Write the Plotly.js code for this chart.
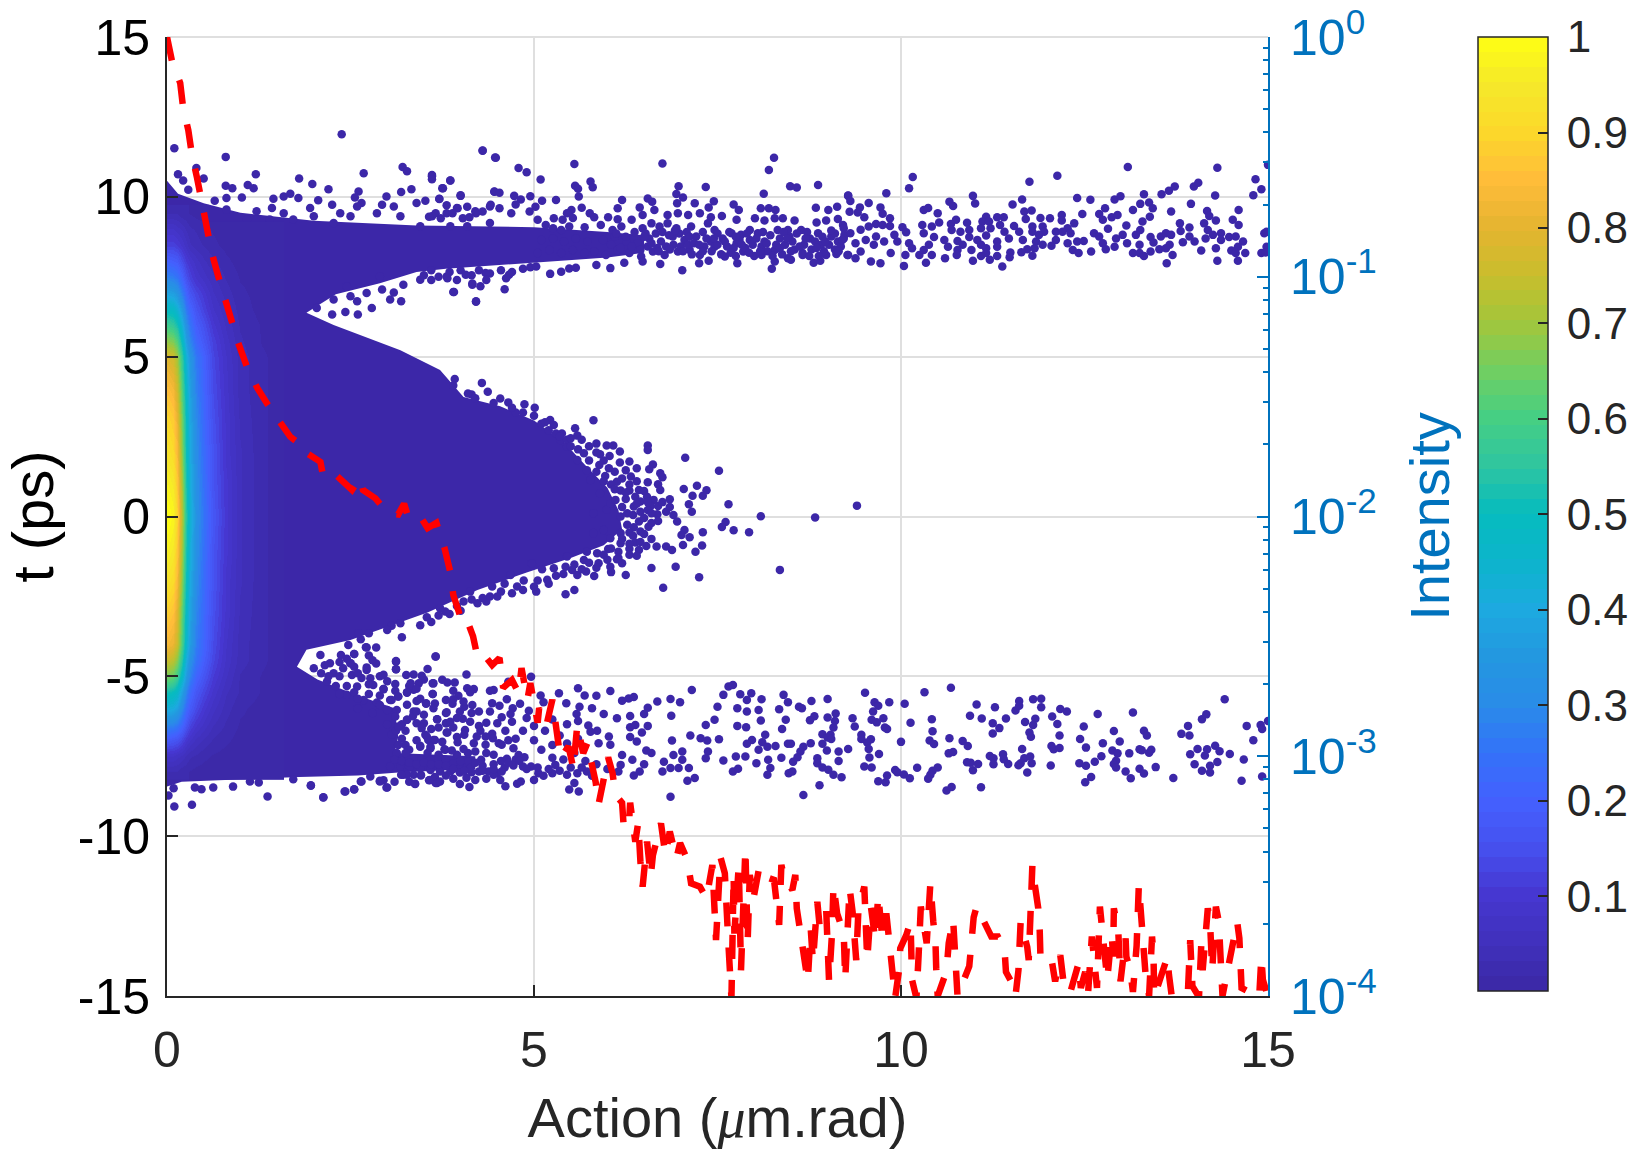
<!DOCTYPE html>
<html>
<head>
<meta charset="utf-8">
<script src="https://cdn.plot.ly/plotly-3.0.1.min.js"></script>
<style>html,body{margin:0;padding:0;background:#fff}</style>
</head>
<body>
<div id="chart_div1" style="width:1640px;height:1154px"></div>
<script>
var xTickVals = [0, 5, 10, 15];
var xTickText = ["0", "5", "10", "15"];
var tTickVals = [-15, -10, -5, 0, 5, 10, 15];
var tTickText = ["-15", "-10", "-5", "0", "5", "10", "15"];
var intensityTickVals = [1, 0.1, 0.01, 0.001, 0.0001];
var intensityTickText = ["10<sup>0</sup>", "10<sup>-1</sup>", "10<sup>-2</sup>", "10<sup>-3</sup>", "10<sup>-4</sup>"];
var intensityMinorVals = [0.9,0.8,0.7,0.6,0.5,0.4,0.3,0.2,0.09,0.08,0.07,0.06,0.05,0.04,0.03,0.02,0.009,0.008,0.007,0.006,0.005,0.004,0.003,0.002,0.0009,0.0008,0.0007,0.0006,0.0005,0.0004,0.0003,0.0002];
var barTickVals = [0.1, 0.2, 0.3, 0.4, 0.5, 0.6, 0.7, 0.8, 0.9, 1];
var barTickText = ["\u20090.1", "\u20090.2", "\u20090.3", "\u20090.4", "\u20090.5", "\u20090.6", "\u20090.7", "\u20090.8", "\u20090.9", "\u20091"];

// colormap
var mapLevels = [0,0.05,0.1,0.15,0.2,0.25,0.3,0.35,0.4,0.45,0.5,0.55,0.6,0.65,0.7,0.75,0.8,0.85,0.9,0.95,1];
var mapColors = ["#3b27a4","#4031bc","#4636d0","#4650ee","#4460ff","#3372f8","#2a8ce8","#2397e0","#1daae0","#0cb4cc","#06bcbf","#2fc5a0","#45cf84","#70cf62","#a2c63c","#c8be2c","#e5b430","#ffbc3a","#fcd82a","#f5e82a","#ffff14"];

// bright core near action = 0, one row per entry of heatT
var heatAction = [0.02,0.08,0.14,0.2,0.26,0.32,0.4,0.5,0.62,0.8,1.0,1.3,1.5];
var heatT = [-8,-7.5,-7,-6.5,-6,-5.5,-5,-4.5,-4,-3,-2,-1,0,1,2,3,4,5,5.5,6,6.5,7,7.5,8,8.5,9,9.5];
var heatZ = [
[.03,.03,.03,.02,.02,.015,.01,.01,.01,.01,.01,.01,.01],
[.08,.08,.07,.06,.045,.035,.03,.02,.015,.01,.01,.01,.01],
[.18,.17,.16,.13,.1,.08,.06,.045,.03,.02,.01,.01,.01],
[.3,.29,.27,.22,.17,.13,.1,.075,.05,.03,.015,.01,.01],
[.42,.41,.38,.3,.23,.18,.14,.1,.07,.04,.02,.01,.01],
[.52,.5,.47,.37,.29,.22,.17,.13,.09,.05,.03,.015,.01],
[.65,.63,.58,.47,.36,.28,.21,.16,.11,.065,.03,.015,.01],
[.75,.73,.67,.54,.41,.32,.25,.19,.13,.075,.04,.02,.01],
[.83,.81,.75,.6,.46,.36,.27,.21,.14,.08,.04,.02,.01],
[.88,.86,.79,.63,.48,.38,.29,.22,.15,.09,.045,.02,.01],
[.93,.91,.84,.67,.51,.4,.31,.23,.16,.09,.05,.02,.01],
[.97,.95,.87,.7,.53,.42,.32,.24,.16,.1,.05,.02,.01],
[1,.98,.9,.72,.55,.43,.33,.25,.17,.1,.05,.02,.01],
[.97,.95,.87,.7,.53,.42,.32,.24,.16,.1,.05,.02,.01],
[.93,.91,.84,.67,.51,.4,.31,.23,.16,.09,.05,.02,.01],
[.9,.88,.81,.65,.5,.39,.3,.22,.15,.09,.045,.02,.01],
[.85,.83,.76,.61,.47,.37,.28,.21,.14,.085,.04,.02,.01],
[.78,.76,.7,.56,.43,.34,.26,.2,.13,.08,.04,.02,.01],
[.68,.66,.61,.49,.37,.29,.22,.17,.12,.07,.035,.015,.01],
[.58,.56,.52,.42,.32,.25,.19,.15,.1,.06,.03,.015,.01],
[.48,.47,.43,.35,.26,.21,.16,.12,.08,.05,.025,.01,.01],
[.38,.37,.34,.27,.21,.16,.13,.1,.065,.04,.02,.01,.01],
[.28,.27,.25,.2,.15,.12,.09,.07,.05,.03,.015,.01,.01],
[.2,.19,.18,.14,.11,.09,.07,.05,.035,.02,.01,.01,.01],
[.12,.12,.11,.09,.07,.05,.04,.03,.02,.012,.01,.01,.01],
[.08,.08,.07,.06,.045,.035,.03,.02,.015,.01,.01,.01,.01],
[.03,.03,.03,.02,.02,.015,.01,.01,null,null,null,null,null]
];

// outline of the solid part of the cloud
var bodyAction = [0,.15,.5,1,2,3.4,5,6,6.5,6.5,6,5,3.8,3.4,2.9,2.3,1.9,2.27,3.18,3.72,4.04,4.54,5,5.4,5.7,6,6.15,6.2,5.95,5.5,4.9,4.23,3.55,2.5,1.9,1.77,2.05,2.6,3.1,3.15,3.1,4.2,4.2,3.2,2.6,1.8,.68,.2,0];
var bodyT = [10.5,10.1,9.8,9.5,9.25,9.1,9.05,8.9,8.8,8.25,8.1,7.95,7.75,7.65,7.3,6.95,6.37,5.99,5.2,4.58,3.74,3.45,3,2.35,1.6,.9,.2,-.4,-.9,-1.3,-1.75,-2.3,-3,-3.86,-4.17,-4.7,-5.1,-5.6,-6,-6.9,-7.4,-7.5,-7.9,-8,-8.1,-8.15,-8.24,-8.3,-8.45];

// separate particles, [action, t]
var upperLeftDots = [[.10,11.52],[.80,11.25],[2.38,11.96],[.40,10.90],[.15,10.71],[1.21,10.71],[.22,10.51],[.50,10.57],[1.80,10.57],[1.98,10.40],[2.68,10.74],[3.21,10.93],[3.27,10.80],[2.20,10.24],[1.10,10.37],[1.18,10.27],[.80,10.35],[.89,10.27],[.29,10.22],[2.61,10.17],[3.33,10.24],[3.61,10.64],[3.86,10.51],[3.75,10.27],[4.46,10.17],[4.30,11.45],[4.47,11.23],
[.65,9.88],[.81,9.96],[1.02,9.98],[1.45,9.94],[1.59,10.01],[1.68,10.10],[1.79,9.96],[2.06,9.89],[2.56,9.98],[2.99,10.01],[3.19,10.15],[3.40,9.81],[3.52,9.88],[3.71,9.94],[4.0,10.05],
[.81,9.60],[1.43,9.65],[1.59,9.49],[1.95,9.65],[2.25,9.75],[2.36,9.49],[2.65,9.81],[2.59,9.70],[2.93,9.75],[3.09,9.70],[3.61,9.39],[3.81,9.49],[3.95,9.65],[4.20,9.55],[4.40,9.70],
[1.22,9.55],[1.09,9.29],[1.40,9.29],[1.72,9.29],[2.0,9.39],[2.27,9.18],[2.50,9.39],[2.86,9.49],[3.18,9.39],[3.45,9.08],[3.86,9.08],[4.09,9.08],[4.40,9.18],
[2.27,6.79],[2.43,6.40],[2.60,6.32],[2.25,6.32],[2.79,6.52],[2.59,6.73],[2.50,6.89],[2.72,6.99],[3.04,6.79],[3.19,6.73],[3.09,7.01],[3.90,7.02],[4.21,6.73],[4.16,7.29],[4.27,7.20],[3.22,7.25],[2.93,7.10],[2.45,7.20],[2.04,6.52],[2.90,7.51],[3.45,7.41],[3.81,7.51],[4.34,7.62],
[3.5,7.55],[3.6,7.7],[3.7,7.5],[3.85,7.65],[4.0,7.7],[4.15,7.55],[4.25,7.7],[4.4,7.6],[4.55,7.7],[4.7,7.65],[4.85,7.75],[4.95,7.8],[3.6,7.4],[3.95,7.4]];
var upperMidDots = [[4.30,11.44],[4.48,11.22],[4.79,10.90],[4.90,10.77],[5.09,10.54],[5.55,11.03],[6.75,11.04],[8.27,11.22],[8.20,10.84],[3.61,10.68],[3.61,10.55],[3.86,10.51],[3.76,10.27],[4.46,10.16],[4.53,10.13],[4.0,10.03],[3.71,9.93],[4.73,10.03],[4.82,9.92],[4.95,10.02],[5.11,9.88],[5.30,9.90],[5.61,10.01],[5.77,10.48],[5.80,10.30],[5.56,10.35],[5.60,10.25],[6.20,9.90],[6.97,10.33],[7.34,10.31],[8.13,10.10],[8.49,10.33],[8.58,10.29],[8.87,10.37],[6.55,9.95],[6.61,9.85],[6.94,10.09],[7.03,9.98],[6.95,9.80],[7.19,9.80],[7.45,9.86],[7.38,9.67],[7.72,9.76],[7.79,9.59],[8.09,9.64],[8.20,9.64],[8.29,9.59],[8.84,9.66],[9.01,9.59],[9.13,9.69],[9.28,10.04],[6.44,9.67],[6.14,9.64],
[3.81,9.74],[3.96,9.64],[4.09,9.69],[4.41,9.75],[4.53,9.64],[4.75,9.76],[5.02,9.69],[5.51,9.59],[5.65,9.66],[5.45,9.49],[4.21,9.49],[4.30,9.54],[3.89,9.49],[3.66,9.49],[3.57,9.38],[3.73,9.33],[4.03,9.33],[4.12,9.36],[4.69,9.49],[4.94,9.54],[5.27,9.33],[5.39,9.28],[5.53,9.34],[5.76,9.49],[5.82,9.36],[6.01,9.36],[6.14,9.30],[6.33,9.28],[6.48,9.43],[6.64,9.59],[6.82,9.43],[6.96,9.49],[7.10,9.43],[7.26,9.49],[7.41,9.36],[7.56,9.40],[7.76,9.28],[8.01,9.33],[8.14,9.26],[8.28,9.33],[8.39,9.33],[8.55,9.26],[8.85,9.20],[8.98,9.26],[9.14,9.31],[9.21,9.12],
[5.05,9.28],[5.16,9.12],[5.26,9.02],[5.37,8.96],[5.48,9.07],[5.69,9.05],[5.91,9.12],[6.07,8.96],[6.19,9.07],[6.48,9.02],[6.60,9.17],[6.71,9.07],[6.82,9.17],[6.94,9.02],[7.14,9.07],[7.37,9.17],[7.46,8.96],[7.69,8.86],[7.82,8.81],[7.94,8.96],[8.05,8.86],[8.32,8.96],[8.46,8.96],[8.64,8.96],[8.87,8.86],[9.05,8.76],[9.23,8.81],
[5.10,8.65],[5.26,8.70],[5.41,8.60],[5.57,8.70],[5.73,8.60],[5.94,8.65],[6.10,8.76],[6.26,8.60],[6.41,8.55],[6.57,8.70],[6.73,8.60],[6.89,8.76],[7.05,8.65],[7.21,8.76],[7.41,8.60],[7.57,8.70],[7.76,8.55],[7.94,8.65],[8.14,8.60],[8.35,8.70],[8.48,8.76],[8.76,8.70],[8.91,8.50],[9.14,8.60],
[5.05,8.24],[5.21,8.34],[5.37,8.24],[5.53,8.34],[5.69,8.24],[5.82,8.29],[5.98,8.18],[6.14,8.34],[6.30,8.24],[6.46,8.13],[6.62,8.29],[6.78,8.18],[6.96,8.29],[7.12,8.34],[7.26,8.18],[7.46,8.44],[7.60,8.13],[7.85,8.29],[8.10,8.18],[8.28,8.34],[8.46,8.08],[8.66,8.24],[8.98,8.18],[9.12,8.21],[9.28,8.18],
[5.22,7.59],[5.37,7.66],[5.48,7.76],[5.57,7.78],[5.03,7.82],[3.91,7.02],[4.21,6.72],[4.60,7.11],[4.16,7.25],[4.35,7.40],[4.66,7.56],[4.62,7.45],[4.07,7.56],[3.82,7.45],[5.85,7.87],[6.04,7.77],[6.23,7.94],[6.48,7.98],[6.72,7.90],[7.02,7.70],[7.25,7.92],[7.38,8.0],[7.77,7.92],[8.24,7.75],[8.28,7.98],[8.50,8.03],[8.81,7.94],[8.90,8.0],[8.66,8.18],
[6.05,8.5],[6.12,8.85],[6.18,8.4],[6.25,8.75],[6.33,8.45],[6.37,8.9],[6.45,8.35],[6.52,8.85],[6.55,8.45],[6.66,8.85],[6.68,8.4],[6.75,8.9],[6.8,8.45],[6.84,8.8],[6.9,8.5],[6.98,8.85],[7.0,8.45],[7.08,8.9],[7.1,8.5],[7.15,8.2],[7.18,8.55],[7.3,8.9],[7.32,8.45],[7.35,8.7],[7.42,8.3],[7.5,8.85],[7.5,8.5],[7.55,8.2],[7.63,8.45],[7.66,8.9],[7.72,8.4],[7.75,8.15],[7.8,8.65],[7.88,8.4],[7.9,8.85],[7.98,8.5],[8.0,8.15],[8.1,8.45],[8.12,8.9],[8.18,8.3],[8.22,8.8],[8.3,8.5],[8.38,8.2],[8.4,8.9],[8.42,8.5],[8.52,8.6],[8.55,8.35],[8.58,8.85],[8.68,8.5],[8.72,8.9],[8.78,8.35],[8.83,8.6],[8.93,8.75],[8.95,8.3],[9.02,8.5],[9.1,8.35],[9.1,8.85],[9.18,8.45],
[6.5,8.75],[6.6,8.55],[6.7,8.3],[6.85,8.35],[6.92,8.95],[7.03,8.3],[7.12,8.75],[7.25,8.5],[7.3,8.3],[7.45,8.7],[7.6,8.6],[7.68,8.25],[7.75,8.75],[7.83,8.5],[7.93,8.25],[8.03,8.7],[8.08,8.3],[8.17,8.55],[8.25,8.15],[8.35,8.4],[8.45,8.7],[8.5,8.3],[8.62,8.45],[8.7,8.7],[8.75,8.15],[8.85,8.4],[8.88,8.15],[8.97,8.6],[9.05,8.95],[9.15,8.3],[9.22,8.7]];
var upperRightDots = [[9.28,10.03],[9.31,9.87],[9.80,10.11],[10.11,10.27],[10.16,10.62],[9.56,9.81],[9.44,9.67],[9.72,9.67],[9.30,9.53],[9.41,9.51],[9.50,9.36],[9.75,9.47],[9.85,9.33],[9.66,9.15],[9.85,9.09],[9.75,9.12],[9.56,9.07],[9.45,8.97],[9.22,9.02],[9.31,8.86],[9.20,8.65],[9.38,8.55],[9.66,8.76],[9.63,8.50],[9.52,8.65],[9.77,8.60],[9.91,8.81],[10.02,9.05],[10.07,8.89],[9.95,8.60],[10.11,8.55],[10.15,8.39],[10.06,8.18],[10.25,8.18],[9.86,8.24],[9.45,8.29],[9.27,8.18],[9.38,8.08],[9.59,7.98],[9.72,7.92],[10.04,7.84],[10.34,7.94],[10.42,8.18],[10.31,8.34],[10.38,8.50],[10.45,8.74],[10.31,8.86],[10.29,9.12],[10.42,9.07],[10.52,9.20],[10.31,9.59],[10.37,9.65],[10.50,9.49],[10.66,9.85],[10.71,9.71],[10.98,10.03],[11.01,9.79],[10.75,9.28],[10.68,9.15],[10.69,8.96],[10.90,9.19],[10.81,8.91],[10.93,8.96],[10.59,8.65],[10.64,8.44],[10.77,8.62],[10.93,8.74],[10.84,8.50],[10.77,8.34],[10.76,8.18],[10.60,8.08],[11.04,8.65],[10.96,8.34],[11.09,8.50],[11.16,8.79],[11.16,9.38],[11.11,9.23],[11.20,9.23],[11.09,9.02],[11.22,9.02],[11.31,9.36],[11.40,9.36],[11.35,9.12],[11.41,8.91],[11.47,8.70],[11.31,8.60],[11.31,8.44],[11.16,8.39],[11.09,8.15],[11.16,8.24],[11.31,8.15],[11.21,8.03],[10.98,8.00],[11.38,7.82],[11.49,8.26],[11.48,8.11],[11.52,9.76],[11.65,9.92],[11.75,10.47],[12.13,10.66],[11.68,9.54],[11.78,9.57],[11.70,9.31],[11.90,9.34],[12.03,9.33],[12.19,9.43],[12.19,9.26],[11.54,9.09],[11.61,8.91],[11.79,9.07],[11.93,9.07],[11.95,8.91],[12.11,8.91],[11.79,8.91],[11.88,8.81],[11.66,8.65],[11.84,8.60],[12.11,8.65],[11.93,8.50],[12.05,8.47],[11.82,8.39],[11.72,8.36],[11.64,8.27],[11.79,8.16],[12.27,9.02],[12.36,9.17],[12.20,8.91],[12.31,8.86],[12.40,8.60],[12.49,8.62],[12.27,8.55],[12.34,8.34],[12.42,8.24],[12.59,8.29],[12.40,9.96],[12.58,9.91],[12.47,9.46],[12.70,9.46],[12.78,9.64],[12.91,9.92],[12.99,10.02],[13.09,10.93],[13.16,9.59],[13.31,10.08],[13.26,9.78],[13.38,9.82],[13.43,9.64],[13.39,9.38],[13.29,9.23],[12.87,9.36],[12.95,9.43],[12.75,9.28],[13.07,9.10],[12.63,8.86],[12.70,8.76],[12.82,9.00],[12.75,8.55],[12.79,8.36],[12.93,8.70],[13.02,8.81],[13.08,8.55],[12.91,8.44],[13.20,8.81],[13.26,8.96],[13.25,8.50],[13.16,8.24],[13.25,8.24],[13.31,8.15],[13.40,8.74],[13.44,8.57],[13.40,8.29],[13.52,8.36],[13.54,8.76],[13.61,8.86],[13.68,8.81],[13.66,8.50],[13.61,8.39],[13.70,8.18],[13.62,7.92],[13.55,10.08],[13.65,10.19],[13.73,10.32],[13.68,9.54],[13.80,9.17],[13.81,8.93],[13.93,9.04],[13.95,9.78],[13.99,10.32],[14.05,10.44],[14.28,10.04],[14.31,10.91],[13.93,8.76],[13.84,8.58],[14.00,8.60],[14.09,8.32],[14.17,9.56],[14.20,9.40],[14.13,9.17],[14.29,9.26],[14.18,8.96],[14.25,8.81],[14.15,8.70],[14.36,8.86],[14.36,8.65],[14.29,8.39],[14.31,8.00],[14.47,8.74],[14.52,9.28],[14.60,9.59],[14.60,9.12],[14.56,8.76],[14.66,8.60],[14.59,8.44],[14.50,8.32],[14.69,8.24],[14.56,8.24],[14.59,8.00],[14.83,10.55],[14.91,10.24],[14.80,10.05],[15.0,11.0],[14.95,8.86],[14.98,8.91],[14.98,8.44],[14.91,8.24],[14.97,8.26]];
var wedgeDots = [[3.92,4.30],[4.29,4.18],[4.37,3.90],[4.15,3.82],[4.54,3.69],[4.65,3.57],[4.87,3.51],[5.01,3.40],[4.75,3.25],[5.81,3.01],[5.22,3.02],[5.27,2.86],[5.56,2.76],[5.38,2.60],[5.59,2.53],[5.85,2.28],[5.99,2.22],[6.08,2.22],[6.17,2.03],[6.55,2.22],[6.55,2.08],[7.06,1.84],[7.52,1.43],[5.90,1.95],[6.03,1.89],[6.17,1.69],[6.30,1.72],[6.40,1.51],[6.62,1.63],[6.57,1.48],[6.72,1.35],[6.75,1.23],[5.89,1.61],[6.02,1.51],[5.97,1.27],[6.20,1.19],[6.32,1.25],[6.55,1.07],[6.69,1.01],[6.72,.83],[7.04,.86],[7.22,.96],[7.35,.82],[7.16,.65],[7.30,.65],[6.85,.54],[7.65,.38],[7.11,.38],[7.15,.15],[9.40,.34],[8.09,.01],[8.83,-.03],
[6.13,1.09],[6.18,.81],[6.30,.81],[6.43,.83],[6.38,.62],[6.54,.62],[6.63,.52],[6.45,.47],[6.59,.33],[6.69,.33],[6.80,.15],[6.68,.07],[6.90,.05],[6.69,-.14],[6.95,-.16],[6.56,-.32],[6.43,-.16],[6.45,-.47],[6.36,-.34],[7.61,-.17],[7.56,-.33],[7.72,-.43],[7.93,-.49],[7.30,-.49],[7.05,-.42],[7.01,-.58],[7.12,-.65],[6.38,-.81],[6.53,-.92],[6.67,-.94],[6.80,-.94],[6.88,-1.05],[7.03,-.89],[7.29,-.91],[7.20,-1.10],[6.43,-1.05],[6.40,-1.23],[6.30,-1.01],[6.15,-1.10],[6.13,-1.34],[6.20,-1.46],[6.01,-1.02],[6.60,-1.61],[6.93,-1.57],[7.25,-1.90],[8.35,-1.67],[6.76,-2.23],[6.04,-1.57],[6.05,-1.74],[6.25,-1.83],[5.82,-1.86],[5.59,-1.83],[5.71,-1.72],[5.88,-1.46],[5.55,-2.30],[5.43,-2.43],[5.03,-2.35],[5.18,-1.98],[4.77,-2.19],[4.86,-2.0],[4.55,-2.35],[4.35,-2.66],[4.23,-2.71],[4.04,-2.66],[3.79,-2.97],[3.54,-3.15],[3.72,-2.87],[4.13,-2.35],[4.43,-2.19],[4.68,-1.83],[4.97,-1.46],[5.11,-1.65],[5.27,-1.62],[5.43,-1.57],[5.52,-1.67],
[5.81,.10],[5.99,.21],[6.18,0],[6.27,-.26],[6.18,-.52],[6.04,-.68],[5.81,-.52],[5.95,-.42],[6.18,-.84],[5.72,-1.10],[5.86,-1.15],[5.45,-1.25],[5.68,-1.36],[6.04,.41],[5.90,.73],[6.11,.52],[6.36,.31],[6.27,.10],[5.72,1.45],[5.77,1.14],[5.59,1.77],[5.68,1.98],[5.45,2.18],[5.36,2.39],
[5.1,2.9],[5.3,2.6],[5.45,2.4],[5.5,2.2],[5.6,2.1],[5.75,1.75],[5.85,1.4],[5.95,1.1],[6.05,1.0],[6.1,.85],[6.25,.55],[6.2,.3],[6.35,.05],[6.45,.15],[6.55,.2],[6.3,-.5],[6.2,-.7],[6.35,-.6],[6.05,-1.0],[5.95,-1.2],[5.75,-1.45],[5.55,-1.5],[5.3,-1.85],[5.05,-2.0],[4.85,-2.3],[4.6,-2.1],[4.4,-2.5],[4.15,-2.6],[3.95,-2.8],[3.7,-3.1],
[3.9,4.1],[4.1,3.85],[4.2,3.7],[4.45,3.55],[4.7,3.4],[4.85,3.25],[5.0,3.15],[5.15,2.95],[5.2,2.7],[5.35,2.5],[5.5,2.45],[5.65,2.4],[5.75,2.2],[5.85,2.0],[5.95,1.75],[6.1,1.4],[6.25,1.45],[6.4,1.1],[6.3,1.0],[6.5,.8],[6.25,.75],[6.55,.45],[6.4,.4],[6.75,.45],[6.85,.3],[6.6,.1],[6.5,-.05],[6.6,-.2],[6.5,-.55],[6.6,-.7],[6.45,-.8],[6.3,-.85],[6.3,-1.2],[6.15,-1.3],[6.0,-1.35],[5.85,-1.6],[5.65,-1.65],[5.4,-1.8],[5.2,-2.1],[5.0,-2.2],[4.7,-2.4],[4.5,-2.5],[4.3,-2.55],[4.0,-2.95],[3.85,-3.05],[3.6,-3.3],[3.45,-3.4]];
var lowerLeftDots = [[.10,-9.07],[.34,-9.02],[1.37,-8.76],[2.13,-8.79],[.02,-8.73],[1.96,-8.41],[2.43,-8.60],[2.55,-8.53],[3.0,-8.48],[3.38,-8.36],[.09,-8.50],[.38,-8.48],[.47,-8.53],[.63,-8.48],[.90,-8.45],[1.13,-8.29],[1.25,-8.32],[1.72,-8.22],[2.64,-8.29],[2.90,-8.27],[3.66,-8.34],[3.58,-8.24],[3.46,-8.10],[3.22,-8.08],
[2.72,-4.10],[2.55,-4.30],[2.50,-4.59],[3.12,-4.54],[3.12,-4.78],[3.66,-4.38],[3.20,-3.78],[3.06,-3.42],[3.0,-3.55],[3.18,-3.34],[2.75,-3.65],[2.64,-3.84],[2.61,-3.65],[2.47,-4.02],[2.37,-4.33],[2.09,-4.33],[2.22,-4.59],[2.0,-4.75],[2.27,-4.90],[2.40,-4.75],[2.52,-4.96],[2.72,-4.80],[2.77,-5.06],[2.81,-5.27],[2.95,-5.40],[2.59,-5.32],[2.18,-5.16],[2.45,-5.58],[2.68,-5.74],[2.86,-5.82],[3.36,-5.42],[3.15,-5.63],[3.27,-5.51],[3.04,-5.74],[3.63,-5.22],[3.80,-5.74],[3.62,-5.55],[3.53,-5.84],[3.36,-6.10],[3.13,-6.05],[3.11,-6.26],[3.68,-6.34],[3.80,-6.15],[3.80,-6.47],[3.27,-6.36],[3.50,-6.47],[3.18,-6.57],[3.06,-6.83],[3.54,-6.88],[3.63,-6.99],[3.81,-6.76],[3.59,-7.25],[3.45,-7.17],[3.79,-7.30],
[2.1,-4.9],[2.2,-5.0],[2.35,-5.0],[2.3,-5.3],[2.45,-5.3],[2.55,-5.5],[2.6,-5.7],[2.75,-5.55],[2.9,-5.6],[2.9,-5.0],[2.85,-4.6],[2.95,-4.95],[3.0,-5.15],[2.65,-5.05],[2.55,-4.7],[2.35,-4.55],[2.15,-4.65],[2.75,-4.35],[2.8,-4.5],[2.85,-4.1],[2.45,-4.45],[2.6,-4.9],[2.75,-5.25],[2.9,-5.9],[3.0,-6.05],[3.2,-6.5],[3.35,-6.25],[3.25,-6.7],[3.4,-7.0],[3.25,-7.15],[3.55,-7.4],[3.7,-7.45],[3.95,-7.45],[4.1,-7.4],[4.2,-7.35],[4.45,-7.45],[4.55,-7.65],[4.75,-7.6],[4.45,-7.75],[4.6,-7.85],[4.3,-7.8],[4.15,-8.0],[3.9,-8.2],[3.65,-8.15],[3.3,-8.3],[3.1,-8.3],[2.95,-8.25],[3.8,-8.1],[4.35,-8.2],
[2.35,-5.55],[2.6,-6.0],[2.8,-6.15],[3.0,-6.5],[3.12,-6.7],[3.2,-6.95],[3.3,-7.3],[3.15,-7.15],[3.4,-6.1],[3.5,-6.2],[3.3,-5.3],[3.5,-5.1],[3.45,-5.7],[3.65,-5.85],[3.7,-6.6],[3.9,-6.6],[3.95,-6.9],[3.75,-7.05],[3.6,-6.65],[3.9,-5.45],[4.05,-5.95],[4.25,-6.1],[4.35,-6.45],[4.25,-6.55],[3.95,-6.3],[4.4,-6.1]];
var lowerMidDots = [[3.66,-4.38],[3.12,-4.52],[3.12,-4.78],[3.55,-4.77],[3.26,-4.96],[3.36,-4.94],[3.47,-4.98],[2.72,-4.72],[2.50,-4.59],[2.55,-4.30],[2.71,-4.09],[4.08,-4.94],[3.75,-5.11],[3.82,-5.19],[3.92,-5.19],[3.62,-5.22],[3.32,-5.22],[3.43,-5.22],[3.11,-5.24],[2.95,-5.40],[3.11,-5.45],[3.40,-5.39],[3.27,-5.50],[3.62,-5.55],[4.09,-5.37],[4.18,-5.40],[4.13,-5.50],[4.40,-5.45],[4.45,-5.43],[3.97,-5.61],[3.90,-5.72],[3.89,-5.86],[4.04,-5.79],[4.63,-5.72],[4.43,-5.84],[4.53,-5.92],[4.71,-6.0],[4.81,-5.86],[4.16,-5.90],[3.40,-5.77],[3.27,-5.89],[3.53,-5.86],[3.15,-5.63],[3.06,-5.74],[3.63,-6.0],[3.81,-6.12],[3.99,-6.10],[4.15,-6.15],[4.03,-6.33],[4.13,-6.42],[3.68,-6.34],[3.81,-6.47],[3.86,-6.42],[3.82,-6.76],[4.06,-6.68],[4.05,-6.83],[4.56,-6.28],[4.68,-6.18],[4.50,-6.47],[4.61,-6.70],[4.70,-6.42],[4.43,-6.80],
[4.27,-6.70],[4.22,-6.88],[4.34,-6.88],[4.44,-6.94],[3.96,-7.06],[4.04,-7.27],[4.18,-7.09],[4.34,-7.14],[4.52,-7.09],[4.56,-7.14],[3.56,-6.99],[3.65,-6.99],[3.52,-6.83],[3.27,-6.36],[3.40,-6.47],[3.15,-6.57],[3.47,-6.62],[3.78,-7.28],[3.88,-7.32],[3.59,-7.20],[3.45,-7.20],[4.35,-7.40],[4.72,-7.25],[4.79,-7.46],[4.87,-7.53],[4.63,-7.58],[4.72,-7.79],[4.85,-7.82],[4.28,-7.61],[4.11,-7.67],[3.98,-7.80],[3.90,-7.72],[3.79,-7.61],[3.68,-7.61],[3.59,-7.61],[3.47,-7.61],[3.36,-7.56],[3.25,-7.40],[3.13,-7.40],
[3.27,-8.08],[3.36,-8.08],[3.46,-8.08],[3.19,-8.08],[3.04,-7.82],[3.18,-7.82],[3.31,-7.82],[3.45,-7.87],[3.59,-7.93],[3.72,-7.98],[3.86,-7.98],[3.99,-8.01],[4.13,-7.87],[4.25,-7.98],[4.38,-7.98],[4.50,-8.03],[4.56,-7.98],[4.96,-7.82],[5.06,-8.03],[5.13,-8.11],[5.25,-8.03],[5.29,-7.77],[5.45,-8.08],[5.59,-8.03],[5.72,-7.98],[5.79,-8.11],
[1.96,-8.42],[2.13,-8.78],[2.42,-8.60],[2.55,-8.54],[2.65,-8.29],[2.99,-8.48],[3.38,-8.37],[3.57,-8.25],[3.68,-8.34],[3.72,-8.29],[3.99,-8.37],[4.12,-8.46],[4.08,-8.17],[4.20,-8.24],[4.61,-8.44],[4.77,-8.36],[4.82,-8.29],[5.0,-8.24],[5.48,-8.54],[5.61,-8.60],[5.55,-8.34],[2.90,-8.29],[2.77,-8.13],[4.54,-8.24],[4.45,-8.08],
[4.96,-5.01],[4.65,-5.17],[5.09,-5.60],[5.34,-5.53],[5.13,-5.81],[4.93,-6.08],[5.44,-5.84],[5.60,-5.37],[5.69,-5.60],[5.85,-5.61],[6.04,-5.46],[5.62,-5.95],[5.79,-6.0],[5.58,-6.18],[5.95,-6.18],[6.13,-6.31],[6.20,-5.76],[6.29,-5.69],[6.36,-5.65],[6.55,-5.98],[6.68,-5.79],[6.31,-6.24],[6.86,-5.71],[6.99,-5.81],[7.15,-5.43],[6.87,-6.23],[6.50,-6.18],
[6.31,-6.59],[6.38,-6.52],[6.55,-6.55],[6.02,-6.88],[6.31,-6.90],[6.40,-7.04],[6.47,-6.76],[5.74,-6.54],[5.86,-6.70],[5.77,-6.73],[7.13,-6.85],[6.88,-7.01],[7.27,-6.94],[7.36,-7.01],[7.52,-6.97],[7.34,-6.52],[7.46,-6.36],[7.50,-5.95],[7.77,-6.0],[7.90,-6.10],[8.06,-6.05],[8.09,-6.38],[7.77,-6.55],[7.89,-6.59],[7.58,-5.58],[7.65,-5.32],[7.71,-5.27],[7.81,-5.56],[7.90,-5.74],[7.96,-5.53],[8.10,-5.72],[8.40,-5.58],[8.46,-5.81],[8.34,-6.03],[8.43,-6.36],[8.38,-6.65],
[6.04,-7.14],[5.88,-7.09],[6.53,-7.32],[6.60,-7.40],[6.20,-7.46],[6.34,-7.61],[6.50,-7.75],[6.18,-7.77],[6.15,-7.98],[6.36,-8.10],[6.44,-7.98],[6.75,-7.98],[6.77,-7.67],[6.90,-7.46],[7.02,-7.35],[7.02,-7.61],[7.37,-7.35],[7.34,-7.56],[6.86,-7.87],[6.97,-7.87],[7.11,-7.87],[7.09,-8.27],[7.19,-8.18],[6.86,-8.77],[7.58,-7.63],[7.75,-7.51],[7.88,-7.51],[7.71,-7.98],[7.78,-7.89],[8.03,-7.72],[8.19,-7.61],[8.37,-7.55],[8.22,-7.87],[8.18,-8.08],[8.47,-8.03],[7.97,-6.99],[7.90,-7.11],[8.11,-7.06],[8.06,-7.30],[8.18,-7.20],[8.29,-7.18],[8.46,-7.11],[8.15,-6.83],
[3.1,-7.6],[3.2,-7.65],[3.3,-7.7],[3.4,-7.75],[3.5,-7.7],[3.6,-7.75],[3.7,-7.75],[3.8,-7.8],[3.9,-7.9],[4.0,-7.65],[4.05,-7.95],[4.2,-7.7],[4.3,-7.95],[4.45,-7.9],[4.65,-7.7],[4.8,-7.65],[4.9,-7.9],[5.05,-7.85],[5.2,-7.9],[5.35,-7.95],[5.5,-7.85],[5.65,-7.85],[5.4,-7.6],[5.55,-7.4],[5.7,-7.65],[5.85,-7.75],[6.0,-7.9],[5.25,-7.55],[5.1,-7.3],[5.0,-7.0],[5.25,-7.15],[5.45,-7.1],[5.6,-6.95],[5.35,-6.85],[5.15,-6.7],[5.0,-6.55],[5.25,-6.35],[5.45,-6.5],[5.6,-6.4],[4.85,-6.7],[4.9,-6.3],[4.75,-6.95],[4.65,-7.0]];
var lowerRightDots = [[8.78,-5.77],[8.61,-5.95],[8.65,-6.0],[9.0,-5.71],[9.51,-5.51],[9.64,-5.81],[9.69,-5.92],[9.84,-5.81],[10.05,-5.86],[10.32,-5.50],[10.68,-5.36],[9.62,-6.10],[9.11,-6.16],[9.0,-6.29],[8.82,-6.25],[8.76,-6.37],[9.10,-6.40],[9.34,-6.31],[9.60,-6.36],[9.67,-6.44],[9.76,-6.31],[9.37,-6.57],[9.08,-6.60],[9.78,-6.60],[9.81,-6.65],[10.13,-6.45],[10.42,-6.34],[10.43,-6.72],[11.03,-5.88],[11.28,-5.97],[10.94,-6.23],[11.10,-6.32],[11.43,-6.32],[11.56,-6.07],[11.61,-5.77],[11.61,-5.92],[11.80,-5.72],[11.91,-5.70],[11.91,-5.97],[12.17,-6.02],[12.26,-6.10],[12.06,-6.26],[11.83,-6.33],[11.69,-6.43],[11.80,-6.52],[11.25,-6.47],[11.34,-6.62],[11.25,-6.79],[12.13,-6.49],[11.75,-6.76],[11.77,-6.89],[12.16,-6.85],[12.49,-6.57],[12.44,-6.96],[12.68,-6.18],[12.90,-6.71],[13.16,-6.13],[13.31,-6.70],[13.35,-6.85],[12.98,-7.04],[12.75,-7.09],[13.91,-6.55],[13.82,-6.80],[13.93,-6.85],[14.10,-6.34],[14.16,-6.19],[14.41,-5.72],[14.71,-6.55],[14.90,-6.52],[14.92,-6.65],[15.0,-6.40],[14.80,-7.0],
[8.50,-7.11],[8.77,-7.09],[8.67,-7.20],[8.93,-6.81],[9.04,-6.83],[9.0,-6.91],[9.05,-6.96],[8.93,-7.11],[8.99,-7.32],[9.15,-7.35],[9.28,-7.27],[9.46,-6.83],[9.46,-6.96],[9.59,-6.97],[9.54,-7.07],[9.56,-7.27],[9.70,-7.43],[9.57,-7.54],[9.15,-7.65],[8.63,-7.35],[8.59,-7.53],[8.53,-7.67],[8.86,-7.56],[8.86,-7.72],[8.93,-7.85],[9.01,-7.92],[9.08,-8.08],[9.19,-8.16],[9.50,-7.82],[9.60,-7.85],[8.52,-7.98],[8.89,-8.41],[8.67,-8.71],[9.69,-8.28],[9.79,-8.31],[9.81,-8.10],[9.92,-7.93],[9.95,-8.0],[10.04,-8.07],[10.12,-8.19],[10.22,-7.86],[10.0,-7.05],[10.39,-7.01],[10.45,-7.12],[10.66,-6.94],[10.84,-7.02],[10.91,-7.18],[10.65,-7.41],[10.71,-7.37],[10.50,-7.85],[10.43,-7.95],[10.40,-8.08],[10.37,-8.20],[10.62,-8.57],[10.69,-8.46],[11.09,-8.47],[10.90,-7.69],[10.95,-7.70],[11.05,-7.74],[10.98,-7.94],[11.21,-7.49],[11.26,-7.56],[11.26,-7.75],[11.39,-7.44],[11.40,-7.59],[11.46,-7.74],[11.65,-7.27],[11.68,-7.56],[11.76,-7.51],[11.78,-7.72],[11.63,-7.72],[11.60,-7.78],[11.72,-8.01],[12.04,-7.79],[12.05,-7.18],[12.08,-7.28],[12.16,-7.24],[12.43,-7.72],[12.52,-7.80],[12.52,-7.23],[12.64,-7.67],[12.73,-7.50],[12.59,-8.15],[12.51,-8.31],[12.88,-7.32],[12.95,-7.41],[12.93,-7.64],[12.90,-7.74],[12.93,-7.85],[13.11,-7.41],[13.25,-7.28],[13.28,-7.31],[13.38,-7.39],[13.41,-7.30],[13.06,-7.98],[13.13,-8.19],[13.25,-7.89],[13.31,-8.04],[13.47,-7.84],[13.71,-8.18],[13.94,-7.44],[14.04,-7.27],[14.17,-7.28],[14.14,-7.48],[14.28,-7.17],[14.34,-7.34],[14.48,-7.43],[14.0,-7.75],[14.31,-7.68],[14.21,-7.80],[14.10,-7.95],[14.21,-8.01],[14.67,-7.60],[14.64,-8.27],[14.92,-8.13]];

// dashed red curve, right axis
var lineAction = [0,.07,.18,.22,.29,.34,.41,.48,.55,.61,.70,.78,.87,.97,1.09,1.23,1.36,1.51,1.68,1.77,1.84,1.88,2.09,2.13,2.29,2.52,2.63,2.67,2.84,3.01,3.15,3.23,3.29,3.45,3.55,3.67,3.78,3.86,3.90,4.0,4.06,4.17,4.23,4.31,4.43,4.53,4.58,4.70,4.79,4.83,4.91,4.95,5.05,5.07,5.17,5.25,5.30,5.36,5.47,5.54,5.56,5.59,5.67,5.73,5.77,5.84,5.88,5.95,6.01,6.07,6.11,6.20,6.22,6.29,6.31,6.38,6.42,
6.45,6.48,6.54,6.59,6.62,6.73,6.79,6.85,6.94,6.99,7.09,7.14,7.26,7.35,7.43,7.48,7.54,7.60,7.65,7.69,7.72,7.73,7.79,7.82,7.88,7.91,7.94,7.99,8.07,8.14,8.27,8.31,8.34,8.37,8.41,8.52,8.56,8.58,8.61,8.67,8.73,8.77,8.80,8.86,8.89,8.98,9.02,9.06,9.08,9.13,9.22,9.24,9.30,9.34,9.39,9.42,9.50,9.54,9.59,9.65,9.69,9.74,9.80,9.86,9.89,9.92,9.97,9.99,10.07,10.13,10.15,10.21,10.24,10.27,10.35,10.40,10.44,10.47,10.48,10.50,10.62,10.65,10.71,10.77,10.93,10.96,10.99,11.03,11.11,11.23,11.32,11.41,11.43,11.50,11.56,11.60,11.63,11.72,11.74,11.78,11.79,11.82,11.87,11.89,11.90,11.93,12.05,12.10,12.17,12.21,12.30,12.42,12.45,12.51,12.55,12.60,12.63,12.67,12.71,12.75,12.78,12.81,12.87,12.89,12.90,12.96,12.99,13.06,13.07,13.12,13.16,13.21,13.24,13.25,13.27,13.30,13.33,13.38,13.42,13.44,13.45,13.63,13.65,13.69,13.91,13.94,13.97,14.06,14.09,14.11,14.18,14.21,14.24,14.29,14.33,14.37,14.38,14.58,14.61,14.64,14.88,14.91,14.93,15.0];
var lineIntensity = [1,.787,.643,.506,.409,.322,.258,.2,.16,.126,.1,.0815,.0647,.053,.042,.0344,.0297,.0252,.0215,.0205,.0203,.0186,.0169,.0146,.015,.0129,.0145,.0129,.0119,.0103,.0102,.0113,.00986,.01,.00895,.0094,.0074,.00587,.00471,.0038,.0039,.00316,.00259,.00267,.0024,.00257,.00193,.00208,.00184,.00233,.00172,.00202,.00138,.00159,.00135,.00172,.00138,.00098,.0011,.00088,.00108,.00135,.00103,.00114,.00098,.00078,.00063,.00081,.00099,.00085,.00069,.00064,.00052,.0005,.00064,.00044,.00053,
3.63e-4,2.86e-4,4.41e-4,3.15e-4,3.87e-4,5.25e-4,3.87e-4,4.85e-4,3.75e-4,4.35e-4,3.69e-4,2.95e-4,2.86e-4,2.55e-4,3.52e-4,1.71e-4,3.8e-4,3.25e-4,1.62e-4,9.8e-5,3.2e-4,1.82e-4,3.52e-4,1.28e-4,4.13e-4,1.66e-4,3.2e-4,2.55e-4,3.46e-4,3.15e-4,3.05e-4,2.5e-4,1.98e-4,3.52e-4,3.1e-4,2.77e-4,3.2e-4,2.32e-4,1.98e-4,1.53e-4,1.15e-4,1.91e-4,1.39e-4,2.47e-4,1.98e-4,2.32e-4,1.15e-4,1.82e-4,2.9e-4,2.21e-4,1.82e-4,1.17e-4,2.82e-4,2.25e-4,1.41e-4,2.29e-4,2.86e-4,1.41e-4,2.36e-4,1.71e-4,2.64e-4,1.82e-4,2.21e-4,1.48e-4,1.17e-4,9.8e-5,1.26e-4,1.58e-4,1.79e-4,2.04e-4,1.17e-4,9.8e-5,1.48e-4,2.36e-4,1.66e-4,2.95e-4,2.04e-4,1.66e-4,1.3e-4,1.0e-4,1.27e-4,1.66e-4,2.09e-4,1.0e-4,1.33e-4,1.66e-4,2.13e-4,2.36e-4,2.11e-4,1.77e-4,1.77e-4,1.58e-4,1.26e-4,1.15e-4,1.0e-4,1.28e-4,2.04e-4,1.6e-4,1.41e-4,2.55e-4,3.52e-4,2.95e-4,2.32e-4,1.87e-4,1.45e-4,1.41e-4,1.43e-4,1.15e-4,1.48e-4,1.17e-4,1.02e-4,1.37e-4,1.08e-4,1.26e-4,1.04e-4,1.77e-4,1.33e-4,1.08e-4,2.36e-4,1.82e-4,1.43e-4,1.17e-4,1.82e-4,1.46e-4,2.32e-4,1.87e-4,1.15e-4,1.74e-4,1.46e-4,1.3e-4,1.04e-4,1.62e-4,2.9e-4,2.55e-4,2.0e-4,1.66e-4,1.25e-4,1.0e-4,1.77e-4,1.48e-4,9.9e-5,1.46e-4,1.23e-4,9.9e-5,1.06e-4,1.71e-4,1.1e-4,9.9e-5,1.62e-4,1.28e-4,2.32e-4,2.04e-4,1.28e-4,2.36e-4,2.04e-4,1.32e-4,1.0e-4,2.04e-4,1.74e-4,1.08e-4,9.9e-5,1.46e-4,1.17e-4,9.9e-5];

function steppedColorscale() {
    // the colorbar shows 64 flat bands
    var scale = [];
    for (var i = 0; i < 64; i++) {
        var v = (i + 0.5) / 64;
        var k = 0;
        while (k < mapLevels.length - 2 && v > mapLevels[k + 1]) { k++; }
        var f = (v - mapLevels[k]) / (mapLevels[k + 1] - mapLevels[k]);
        var c = "rgb(" + [1, 3, 5].map(function (p) {
            var a = parseInt(mapColors[k].substr(p, 2), 16);
            var b = parseInt(mapColors[k + 1].substr(p, 2), 16);
            return Math.round(a + (b - a) * f);
        }).join(",") + ")";
        scale.push([i / 64, c]);
        scale.push([(i + 1) / 64, c]);
    }
    return scale;
}

var allDots = upperLeftDots.concat(upperMidDots, upperRightDots, wedgeDots, lowerLeftDots, lowerMidDots, lowerRightDots);
var cloudColor = "#3c27a8";
var textBlack = "#262626";
var axisBlue = "#0072bd";

var body = {
    x: bodyAction, y: bodyT, type: 'scatter', mode: 'lines', fill: 'toself',
    fillcolor: cloudColor, line: {width: 0, color: cloudColor}, hoverinfo: 'skip'
};
var dots = {
    x: allDots.map(function (d) { return d[0]; }),
    y: allDots.map(function (d) { return d[1]; }),
    type: 'scatter', mode: 'markers',
    marker: {color: cloudColor, size: 8.5}
};
var core = {
    x: heatAction, y: heatT, z: heatZ, type: 'heatmap', yaxis: 'y2', zsmooth: 'best',
    colorscale: steppedColorscale(), zmin: 0.001, zmax: 1,
    hoverinfo: 'skip',
    colorbar: {
        x: 1.1909, xanchor: 'left', y: 1, yanchor: 'top', xpad: 0, ypad: 0,
        thicknessmode: 'pixels', thickness: 70, lenmode: 'pixels', len: 954,
        outlinecolor: textBlack, outlinewidth: 1.5,
        ticks: 'inside', ticklen: 10, tickwidth: 2, tickcolor: textBlack,
        tickmode: 'array', tickvals: barTickVals, ticktext: barTickText,
        tickfont: {size: 44, color: textBlack, family: 'Liberation Sans, Arial, sans-serif'}
    }
};
var curve = {
    x: lineAction, y: lineIntensity, type: 'scatter', mode: 'lines', yaxis: 'y3',
    line: {color: '#ff0000', width: 6.5, dash: '24px,21px'}
};

var layout = {
    width: 1640, height: 1154,
    margin: {l: 167, r: 372, t: 37, b: 158, autoexpand: false},
    paper_bgcolor: '#ffffff', plot_bgcolor: '#ffffff',
    showlegend: false,
    font: {family: 'Liberation Sans, Arial, sans-serif', color: textBlack},
    shapes: [{type: 'line', xref: 'paper', yref: 'paper', x0: 0, x1: 1, y0: 1, y1: 1, layer: 'below', line: {color: '#dfdfdf', width: 2}}],
    xaxis: {
        range: [0, 15], tickmode: 'array', tickvals: xTickVals, ticktext: xTickText,
        ticks: 'inside', ticklen: 11, tickwidth: 2, tickcolor: textBlack,
        showline: true, linecolor: textBlack, linewidth: 2,
        showgrid: true, gridcolor: '#dfdfdf', gridwidth: 2, zeroline: false,
        tickfont: {size: 50, color: textBlack}, ticklabelstandoff: 9,
        title: {text: 'Action (<span style="font-family:Liberation Serif"><i>μ</i></span>m.rad)', font: {size: 56, color: textBlack}, standoff: 21}
    },
    yaxis: {
        range: [-15, 15], tickmode: 'array', tickvals: tTickVals, ticktext: tTickText,
        ticks: 'inside', ticklen: 11, tickwidth: 2, tickcolor: textBlack,
        showline: true, linecolor: textBlack, linewidth: 2,
        showgrid: true, gridcolor: '#dfdfdf', gridwidth: 2, zeroline: false,
        tickfont: {size: 50, color: 'black'}, ticklabelstandoff: 5,
        title: {text: 't (ps)', font: {size: 58, color: 'black'}, standoff: 9}
    },
    yaxis2: {range: [-15, 15], overlaying: 'y', visible: false},
    yaxis3: {
        type: 'log', range: [-4, 0], overlaying: 'y', side: 'right', anchor: 'x',
        tickmode: 'array', tickvals: intensityTickVals, ticktext: intensityTickText,
        ticks: 'inside', ticklen: 11, tickwidth: 2, tickcolor: axisBlue,
        minor: {ticks: 'inside', ticklen: 5, tickwidth: 2, tickcolor: axisBlue, tickmode: 'array', tickvals: intensityMinorVals},
        showline: true, linecolor: axisBlue, linewidth: 2, showgrid: false, zeroline: false,
        tickfont: {size: 50, color: axisBlue}, ticklabelstandoff: 10,
        title: {text: 'Intensity', font: {size: 56, color: axisBlue}, standoff: 34}
    }
};

Plotly.newPlot('chart_div1', [body, dots, core, curve], layout, {displayModeBar: false});
</script>
</body>
</html>
